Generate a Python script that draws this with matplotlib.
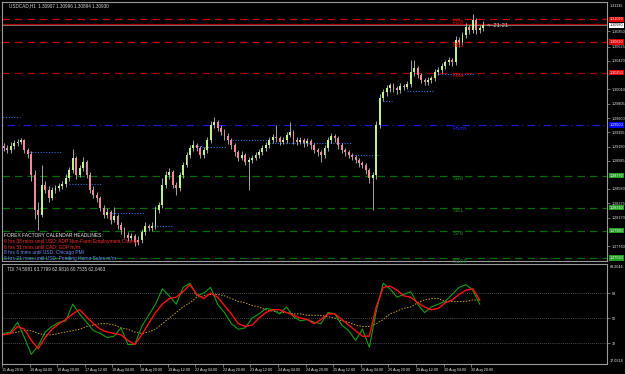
import numpy as np
import matplotlib.pyplot as plt
import matplotlib.transforms as mtransforms

plt.rcParams["font.family"] = ["Liberation Sans", "DejaVu Sans"]

# ---- price data (2h candles, USDCAD) ----
opens = [1.2920, 1.2917, 1.2914, 1.2920, 1.2924, 1.2926, 1.2928, 1.2914, 1.2908, 1.2878,
         1.2828, 1.2821, 1.2864, 1.2857, 1.2845, 1.2857, 1.2859, 1.2862, 1.2865, 1.2874,
         1.2885, 1.2903, 1.2878, 1.2888, 1.2897, 1.2878, 1.2857, 1.2849, 1.2845, 1.2831,
         1.2821, 1.2825, 1.2813, 1.2819, 1.2806, 1.2799, 1.2792, 1.2788, 1.2790, 1.2782,
         1.2785, 1.2796, 1.2805, 1.2802, 1.2805, 1.2828, 1.2835, 1.2864, 1.2878, 1.2882,
         1.2864, 1.2859, 1.2878, 1.2893, 1.2907, 1.2917, 1.2921, 1.2917, 1.2907, 1.2914,
         1.2928, 1.2950, 1.2954, 1.2946, 1.2940, 1.2934, 1.2928, 1.2921, 1.2911, 1.2903,
         1.2907, 1.2897, 1.2900, 1.2903, 1.2907, 1.2911, 1.2917, 1.2921, 1.2928, 1.2933,
         1.2931, 1.2926, 1.2928, 1.2936, 1.2940, 1.2928, 1.2926, 1.2928, 1.2924, 1.2927,
         1.2921, 1.2914, 1.2911, 1.2907, 1.2917, 1.2928, 1.2934, 1.2931, 1.2921, 1.2914,
         1.2911, 1.2907, 1.2904, 1.2900, 1.2895, 1.2893, 1.2885, 1.2874, 1.2878, 1.2950,
         1.2989, 1.2997, 1.3003, 1.3007, 1.3003, 1.3000, 1.3006, 1.3005, 1.3009, 1.3026,
         1.3032, 1.3022, 1.3015, 1.3012, 1.3015, 1.3017, 1.3026, 1.3029, 1.3035, 1.3040,
         1.3043, 1.3040, 1.3072, 1.3069, 1.3079, 1.3091, 1.3086, 1.3101, 1.3086, 1.3089]
highs = [1.2924, 1.2921, 1.2925, 1.2929, 1.2930, 1.2931, 1.2930, 1.2917, 1.2912, 1.2885,
         1.2840, 1.2892, 1.2870, 1.2862, 1.2861, 1.2864, 1.2866, 1.2870, 1.2879, 1.2890,
         1.2916, 1.2906, 1.2893, 1.2904, 1.2899, 1.2882, 1.2862, 1.2853, 1.2848, 1.2835,
         1.2830, 1.2828, 1.2832, 1.2822, 1.2810, 1.2803, 1.2796, 1.2795, 1.2793, 1.2790,
         1.2800, 1.2810, 1.2808, 1.2810, 1.2833, 1.2840, 1.2874, 1.2884, 1.2888, 1.2885,
         1.2868, 1.2882, 1.2897, 1.2911, 1.2921, 1.2928, 1.2924, 1.2920, 1.2918, 1.2933,
         1.2955, 1.2961, 1.2957, 1.2950, 1.2944, 1.2938, 1.2931, 1.2924, 1.2914, 1.2912,
         1.2910, 1.2904, 1.2907, 1.2911, 1.2915, 1.2921, 1.2925, 1.2932, 1.2937, 1.2950,
         1.2934, 1.2932, 1.2940, 1.2954, 1.2943, 1.2932, 1.2932, 1.2931, 1.2931, 1.2930,
         1.2924, 1.2917, 1.2914, 1.2921, 1.2932, 1.2938, 1.2937, 1.2934, 1.2924, 1.2917,
         1.2914, 1.2910, 1.2907, 1.2903, 1.2898, 1.2896, 1.2888, 1.2883, 1.2955, 1.2994,
         1.3002, 1.3008, 1.3011, 1.3010, 1.3006, 1.3010, 1.3009, 1.3013, 1.3043, 1.3043,
         1.3035, 1.3025, 1.3018, 1.3019, 1.3021, 1.3030, 1.3033, 1.3039, 1.3044, 1.3047,
         1.3046, 1.3078, 1.3076, 1.3084, 1.3096, 1.3094, 1.3110, 1.3104, 1.3093, 1.3099]
lows = [1.2912, 1.2909, 1.2910, 1.2916, 1.2920, 1.2922, 1.2910, 1.2903, 1.2870, 1.2815,
        1.2799, 1.2818, 1.2852, 1.2840, 1.2842, 1.2852, 1.2855, 1.2858, 1.2861, 1.2870,
        1.2881, 1.2872, 1.2875, 1.2884, 1.2874, 1.2852, 1.2845, 1.2840, 1.2826, 1.2816,
        1.2817, 1.2808, 1.2810, 1.2801, 1.2794, 1.2787, 1.2783, 1.2784, 1.2776, 1.2778,
        1.2781, 1.2792, 1.2797, 1.2798, 1.2801, 1.2824, 1.2831, 1.2860, 1.2873, 1.2859,
        1.2850, 1.2855, 1.2874, 1.2889, 1.2903, 1.2913, 1.2912, 1.2902, 1.2903, 1.2910,
        1.2924, 1.2946, 1.2941, 1.2935, 1.2929, 1.2923, 1.2916, 1.2906, 1.2898, 1.2899,
        1.2892, 1.2857, 1.2896, 1.2899, 1.2903, 1.2907, 1.2913, 1.2917, 1.2924, 1.2926,
        1.2921, 1.2922, 1.2924, 1.2932, 1.2923, 1.2921, 1.2922, 1.2919, 1.2920, 1.2916,
        1.2909, 1.2906, 1.2897, 1.2903, 1.2913, 1.2924, 1.2926, 1.2916, 1.2909, 1.2906,
        1.2902, 1.2899, 1.2895, 1.2890, 1.2888, 1.2879, 1.2867, 1.2828, 1.2873, 1.2945,
        1.2984, 1.2992, 1.2998, 1.2998, 1.2995, 1.2996, 1.3000, 1.3001, 1.3005, 1.3021,
        1.3017, 1.3010, 1.3007, 1.3008, 1.3011, 1.3013, 1.3022, 1.3025, 1.3031, 1.3036,
        1.3035, 1.3036, 1.3062, 1.3065, 1.3075, 1.3081, 1.3082, 1.3080, 1.3082, 1.3085]
closes = [1.2917, 1.2914, 1.2920, 1.2924, 1.2926, 1.2928, 1.2914, 1.2908, 1.2878, 1.2828,
          1.2821, 1.2864, 1.2857, 1.2845, 1.2857, 1.2859, 1.2862, 1.2865, 1.2874, 1.2885,
          1.2903, 1.2878, 1.2888, 1.2897, 1.2878, 1.2857, 1.2849, 1.2845, 1.2831, 1.2821,
          1.2825, 1.2813, 1.2819, 1.2806, 1.2799, 1.2792, 1.2788, 1.2790, 1.2782, 1.2785,
          1.2796, 1.2805, 1.2802, 1.2805, 1.2828, 1.2835, 1.2864, 1.2878, 1.2882, 1.2864,
          1.2859, 1.2878, 1.2893, 1.2907, 1.2917, 1.2921, 1.2917, 1.2907, 1.2914, 1.2928,
          1.2950, 1.2954, 1.2946, 1.2940, 1.2934, 1.2928, 1.2921, 1.2911, 1.2903, 1.2907,
          1.2897, 1.2900, 1.2903, 1.2907, 1.2911, 1.2917, 1.2921, 1.2928, 1.2933, 1.2931,
          1.2926, 1.2928, 1.2936, 1.2940, 1.2928, 1.2926, 1.2928, 1.2924, 1.2927, 1.2921,
          1.2914, 1.2911, 1.2907, 1.2917, 1.2928, 1.2934, 1.2931, 1.2921, 1.2914, 1.2911,
          1.2907, 1.2904, 1.2900, 1.2895, 1.2893, 1.2885, 1.2874, 1.2878, 1.2950, 1.2989,
          1.2997, 1.3003, 1.3007, 1.3003, 1.3000, 1.3006, 1.3005, 1.3009, 1.3026, 1.3032,
          1.3022, 1.3015, 1.3012, 1.3015, 1.3017, 1.3026, 1.3029, 1.3035, 1.3040, 1.3043,
          1.3040, 1.3072, 1.3069, 1.3079, 1.3091, 1.3086, 1.3101, 1.3086, 1.3089, 1.3093]

# fibonacci pivot levels
level_names = ["R78", "R61", "R38", "Pivot", "S38", "S61", "S78", "S100"]
level_prices = [1.31020, 1.30690, 1.30250, 1.29500, 1.28770, 1.28310, 1.27980, 1.27590]
bid_price = 1.30930
open_line = 1.30948

# short dotted session lines (candle index start, end, price)
seg_start = [-1, 7.2, 18.8, 30.4, 43.5, 54.5, 57.4, 66.1, 76.8, 100.9, 110, 116.8, 126.1]
seg_end = [4.6, 16.8, 28.4, 40.9, 48.7, 57.4, 64.6, 76.8, 100.9, 109, 112.5, 124.6, 136.5]
seg_price = [1.2961, 1.2911, 1.2865, 1.2823, 1.2805, 1.2920, 1.2918, 1.2928, 1.2924,
             1.2907, 1.2985, 1.2999, 1.3023]

price_ticks = [1.30850, 1.30625, 1.30420, 1.30010, 1.29805, 1.29600, 1.29395, 1.29190,
               1.28985, 1.28580, 1.28375, 1.28170, 1.27760]

# TDI values (every second candle)
tdi_green = [39, 40, 47, 36, 24, 30, 40, 44, 47, 48, 60, 53, 47, 41, 39, 36, 37, 43, 31, 31,
             44, 52, 60, 71, 66, 60, 72, 75, 66, 68, 72, 60, 54, 46, 42, 43, 50, 53, 57, 56,
             53, 58, 51, 48, 49, 47, 46, 54, 53, 45, 41, 34, 42, 29, 55, 75, 71, 65, 67, 69,
             60, 54, 58, 60, 62, 67, 72, 74, 70, 60]
tdi_red = [38, 39, 44, 42, 34, 28, 36, 42, 46, 49, 53, 56, 51, 46, 42, 40, 39, 38, 34, 31,
           38, 46, 54, 60, 64, 65, 69, 74, 67, 64, 68, 65, 59, 53, 46, 44, 45, 50, 54, 56,
           56, 54, 52, 50, 49, 46, 49, 53, 53, 49, 45, 41, 37, 37, 58, 72, 73, 70, 66, 65,
           61, 58, 56, 57, 61, 63, 67, 70, 71, 63]
tdi_yellow = [38.5, 39, 40, 41, 41, 39, 38, 38, 39, 40, 41, 42, 44, 45, 46, 46, 45, 43, 42, 40,
              39, 40, 42, 46, 50, 54, 58, 61, 65, 66, 67, 67, 66, 64, 62, 61, 59, 58, 56, 55,
              54, 54, 53, 53, 52, 52, 52, 51, 50, 48, 47, 45, 44, 44, 46, 49, 53, 55, 57, 58,
              61, 63, 64, 64, 62, 62, 62, 62, 63, 63]
tdi_levels = [68, 50, 32]

time_labels = ["15 Aug 2016", "16 Aug 04:00", "16 Aug 20:00", "17 Aug 12:00", "18 Aug 04:00",
               "18 Aug 20:00", "19 Aug 12:00", "22 Aug 04:00", "22 Aug 20:00", "23 Aug 12:00",
               "24 Aug 04:00", "24 Aug 20:00", "25 Aug 12:00", "26 Aug 04:00", "26 Aug 20:00",
               "29 Aug 12:00", "30 Aug 04:00", "30 Aug 20:00"]

news_lines = ["FOREX FACTORY CALENDAR HEADLINES:",
              "6 hrs 38 mins until USD: ADP Non-Farm Employment Change",
              "6 hrs 51 mins until CAD: GDP m/m",
              "8 hrs 6 mins until USD: Chicago PMI",
              "8 hrs 21 mins until USD: Pending Home Sales m/m"]
news_colors = ["#e8e8e8", "#ff2a2a", "#ff2a2a", "#6f8cff", "#6f8cff"]

title = "USDCAD,H1  1.30907 1.30996 1.30894 1.30930"
tdi_title = "TDI 74.5981 63.7799 62.9816 60.7535 62.0463"

# ---- styles ----
bull_color = "#bff08a"
bear_color = "#f08a9a"
wick_color = "#bdbdbd"
frame_color = "#9a9a9a"
label_color = "#e6e6e6"
W, H = 625, 374

fig = plt.figure(figsize=(W / 100, H / 100), dpi=100, facecolor="black")
ax = fig.add_axes([2 / W, 1 - 261 / H, 605 / W, 259 / H], facecolor="black")
ax2 = fig.add_axes([2 / W, 1 - 364 / H, 605 / W, 100.5 / H], facecolor="black")

o = np.array(opens)
c = np.array(closes)
x = np.arange(len(c))
up = c >= o

ax.vlines(x, lows, highs, color=wick_color, lw=0.6, zorder=3)
body_lo = np.minimum(o, c)
body_h = np.maximum(np.abs(c - o), 0.00004)
ax.bar(x[up], body_h[up], bottom=body_lo[up], width=0.55, color=bull_color, lw=0, zorder=4)
ax.bar(x[~up], body_h[~up], bottom=body_lo[~up], width=0.55, color=bear_color, lw=0, zorder=4)

ax.set_xlim(-0.5, 174.9)
ax.set_ylim(1.27545, 1.31267)

# pivot levels
lv_line = ["#c80000", "#c80000", "#a80000", "#1a1ad0", "#006e00", "#006e00", "#006e00", "#006e00"]
lv_box = ["#e00000", "#e00000", "#e00000", "#0000ff", "#1f9e1f", "#1f9e1f", "#1f9e1f", "#1f9e1f"]
lv_text = ["#e00000", "#e00000", "#e00000", "#2020ff", "#1a7a1a", "#1a7a1a", "#1a7a1a", "#1a7a1a"]
blend = mtransforms.blended_transform_factory(ax.transAxes, ax.transData)
for name, p, lc, bc, tc in zip(level_names, level_prices, lv_line, lv_box, lv_text):
    ls = (0, (1, 3, 6, 3)) if name == "Pivot" else (0, (6, 4))
    ax.axhline(p, color=lc, lw=0.9, ls=ls, zorder=2)
    ax.text(0.745, p - 0.00010, name, transform=blend, color=tc, fontsize=4.6,
            va="top", ha="left", zorder=5)
    ax.text(1.004, p, f"{p:.5f}", transform=blend, color="white", fontsize=2.7,
            va="center", ha="left", clip_on=False,
            bbox=dict(boxstyle="square,pad=0.18", fc=bc, ec="none"))

ax.axhline(open_line, color="#b00000", lw=0.9, zorder=2)
ax.axhline(bid_price, color="#707070", lw=0.7, zorder=2)
ax.text(1.004, bid_price, f"{bid_price:.5f}", transform=blend, color="black", fontsize=2.7,
        va="center", ha="left", clip_on=False,
        bbox=dict(boxstyle="square,pad=0.18", fc="white", ec="none"))
ax.text(0.802, bid_price, "<--21:21", transform=blend, color="#d0d0d0", fontsize=4.2,
        va="center", ha="left", zorder=5)

ax.hlines(seg_price, seg_start, seg_end, color="#2f6fe0", lw=0.8, ls=(0, (1, 1.5)), zorder=2)

ax.yaxis.tick_right()
ax.set_yticks(price_ticks)
ax.set_yticklabels([f"{t:.5f}" for t in price_ticks])
ax.tick_params(axis="y", color=frame_color, labelcolor=label_color, labelsize=2.7,
               length=2, width=0.5, pad=1.5)
ax.set_xticks([])
ax.text(1.005, 0.985, "1.31135", transform=ax.transAxes, color=label_color, fontsize=2.7,
        va="center", ha="left")
ax.text(0.012, 0.984, title, transform=ax.transAxes, color="#d8d8d8", fontsize=3.3,
        va="center", ha="left")

for i, (line, col) in enumerate(zip(news_lines, news_colors)):
    ax.text(0.004, 0.097 - i * 0.0215, line, transform=ax.transAxes, color=col,
            fontsize=3.5, va="center", ha="left", zorder=6)

for s in ax.spines.values():
    s.set_color(frame_color)
    s.set_linewidth(0.8)

# ---- TDI panel ----
xi = np.arange(0, len(c), 2)
for lvl in tdi_levels:
    ax2.axhline(lvl, color="#8a8a8a", lw=0.5, ls=(0, (1, 2)))
ax2.plot(xi, tdi_yellow, color="#c8a018", lw=0.7, ls=(0, (1.5, 1.5)))
ax2.plot(xi, tdi_green, color="#10a010", lw=0.8)
ax2.plot(xi, tdi_red, color="#ff1010", lw=1.0)
ax2.set_xlim(-0.5, 174.9)
ax2.set_ylim(17.0318, 89.2044)

ax2.yaxis.tick_right()
ax2.set_yticks(tdi_levels)
ax2.set_yticklabels([str(v) for v in tdi_levels])
ax2.tick_params(axis="y", color=frame_color, labelcolor=label_color, labelsize=2.7,
                length=2, width=0.5, pad=1.5)
ax2.text(1.005, 0.97, "89.2044", transform=ax2.transAxes, color=label_color, fontsize=2.7,
         va="center", ha="left")
ax2.text(1.005, 0.03, "17.0318", transform=ax2.transAxes, color=label_color, fontsize=2.7,
         va="center", ha="left")
ax2.text(0.008, 0.94, tdi_title, transform=ax2.transAxes, color="#d8d8d8", fontsize=3.3,
         va="center", ha="left")

tick_pos = [-0.5] + [7.5 + 8 * i for i in range(len(time_labels) - 1)]
ax2.set_xticks(tick_pos)
ax2.set_xticklabels(time_labels, ha="left")
ax2.tick_params(axis="x", color=frame_color, labelcolor=label_color, labelsize=2.7,
                length=2, width=0.5, pad=1)
for s in ax2.spines.values():
    s.set_color(frame_color)
    s.set_linewidth(0.8)

fig.savefig("out.png", dpi=100, facecolor="black")
